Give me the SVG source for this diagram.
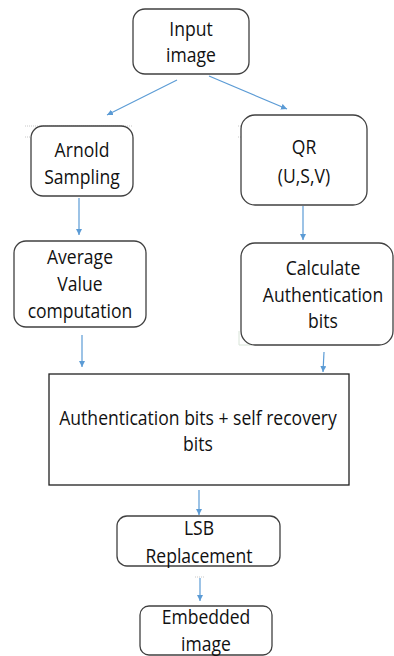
<svg xmlns="http://www.w3.org/2000/svg" width="394" height="656" viewBox="0 0 394 656">
<defs>
<style>
.box{fill:#fff;stroke:#404040;stroke-width:1.3}
.sq{fill:#fff;stroke:#202020;stroke-width:1.3}
.t{font-family:"Open Sans","Liberation Sans",sans-serif;font-size:19.5px;fill:#111;text-anchor:middle}
.c{stroke:#5B9BD5;stroke-width:1.2;fill:none;marker-end:url(#ah)}
.art{stroke:#c8c8c8;stroke-width:1;stroke-dasharray:1 1;fill:none}
</style>
<marker id="ah" viewBox="0 0 10 10" refX="10" refY="5" markerWidth="6" markerHeight="6" markerUnits="userSpaceOnUse" orient="auto">
<path d="M0,0 L10,5 L0,10 z" fill="#5B9BD5"/>
</marker>
</defs>
<rect width="394" height="656" fill="#fff"/>
<g id="artifacts">
<path class="art" d="M25,126 H132 M25,137 H132 M238,126 H368 M238,137 H368"/>
<path d="M239,331 V345 H252" stroke="#d8e4d8" stroke-width="1" fill="none"/>
<path class="art" d="M195,577 H205"/>
</g>
<g id="input">
<rect class="box" x="133" y="9" width="116" height="65" rx="12"/>
<text class="t" transform="translate(191,36) scale(0.9,1)">Input</text>
<text class="t" transform="translate(191,62) scale(0.9,1)">image</text>
</g>
<g id="arnold">
<rect class="box" x="31" y="126" width="102" height="70" rx="12"/>
<text class="t" transform="translate(82,157) scale(0.9,1)">Arnold</text>
<text class="t" transform="translate(82,184) scale(0.9,1)">Sampling</text>
</g>
<g id="qr">
<rect class="box" x="241" y="115" width="126" height="90" rx="14"/>
<text class="t" transform="translate(304,154) scale(0.9,1)">QR</text>
<text class="t" transform="translate(304,183) scale(0.9,1)">(U,S,V)</text>
</g>
<g id="average">
<rect class="box" x="14" y="241" width="132" height="86" rx="12"/>
<text class="t" transform="translate(80,264) scale(0.9,1)">Average</text>
<text class="t" transform="translate(80,291) scale(0.9,1)">Value</text>
<text class="t" transform="translate(80,318) scale(0.9,1)">computation</text>
</g>
<g id="calculate">
<rect class="box" x="241" y="243" width="152" height="102" rx="14"/>
<text class="t" transform="translate(323,275) scale(0.9,1)">Calculate</text>
<text class="t" transform="translate(323,302) scale(0.9,1)">Authentication</text>
<text class="t" transform="translate(323,328) scale(0.9,1)">bits</text>
</g>
<g id="combined">
<rect class="sq" x="49" y="374" width="300" height="111"/>
<text class="t" transform="translate(198,425) scale(0.9,1)">Authentication bits + self recovery</text>
<text class="t" transform="translate(198,451) scale(0.9,1)">bits</text>
</g>
<g id="lsb">
<rect class="box" x="117" y="516" width="163" height="50" rx="10"/>
<text class="t" transform="translate(199,535) scale(0.9,1)">LSB</text>
<text class="t" transform="translate(199,563) scale(0.9,1)">Replacement</text>
</g>
<g id="embedded">
<rect class="box" x="140" y="606" width="132" height="49" rx="9"/>
<text class="t" transform="translate(206,624) scale(0.9,1)">Embedded</text>
<text class="t" transform="translate(206,651) scale(0.9,1)">image</text>
</g>
<g id="connectors">
<path class="c" d="M177,80 L107,115"/>
<path class="c" d="M209,76 L287,109"/>
<path class="c" d="M79,198 L79,235"/>
<path class="c" d="M303,206 L303,240"/>
<path class="c" d="M82,335 L82,367"/>
<path class="c" d="M324,352 L323,372"/>
<path class="c" d="M199,490 L199,515"/>
<path class="c" d="M200,578 L200,601"/>
</g>
</svg>
